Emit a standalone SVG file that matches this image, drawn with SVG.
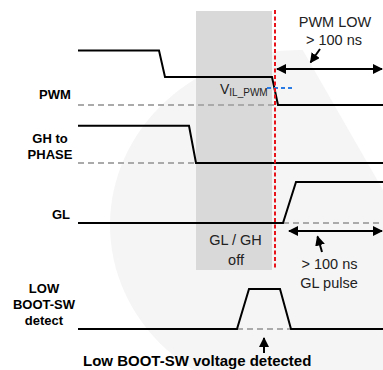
<svg xmlns="http://www.w3.org/2000/svg" width="383" height="370" viewBox="0 0 383 370">
<style>
.sig{fill:none;stroke:#000;stroke-width:2;stroke-linejoin:miter}
.ref{fill:none;stroke:#aaa;stroke-width:2;stroke-dasharray:6,4}
.arr{fill:none;stroke:#000;stroke-width:2}
.lbl{font-family:"Liberation Sans",Arial,sans-serif;font-weight:bold;font-size:13px;fill:#000;text-anchor:middle}
.note{font-family:"Liberation Sans",Arial,sans-serif;font-size:14.5px;fill:#222;text-anchor:middle}
</style>
<defs>
<marker id="ah" viewBox="0 0 10 10" refX="9" refY="5" markerWidth="5" markerHeight="5" orient="auto-start-reverse" markerUnits="strokeWidth">
<path d="M0,0 L10,5 L0,10 z" fill="#000"/>
</marker>
</defs>
<rect width="383" height="370" fill="#fff"/>
<ellipse cx="300" cy="225" rx="190" ry="175" fill="#f5f5f5"/>
<polygon points="274,0 383,0 383,190" fill="#fff"/>
<g id="window">
<rect x="196" y="11" width="76" height="259" fill="#d9d9d9"/>
<text class="note" x="235.5" y="245">GL / GH</text>
<text class="note" x="236" y="265">off</text>
</g>
<g id="pwm">
<text class="lbl" x="55" y="99">PWM</text>
<path class="ref" d="M78,105 H278"/>
<path class="sig" d="M78,50.5 H159 L165,77 H272 L278,105 H383"/>
<text font-family="Liberation Sans,Arial,sans-serif" font-size="14" fill="#222" x="220" y="94">V<tspan font-size="10" dy="2">IL_PWM</tspan></text>
<path d="M267,88 H292" stroke="#2a7be4" stroke-width="2" stroke-dasharray="4,3" fill="none"/>
</g>
<g id="gh">
<text class="lbl" x="50" y="143">GH to</text>
<text class="lbl" x="50" y="159">PHASE</text>
<path class="ref" d="M78,163 H196"/>
<path class="sig" d="M78,125.7 H189 L196,163 H383"/>
</g>
<g id="gl">
<text class="lbl" x="61" y="219">GL</text>
<path class="ref" d="M283,223 H383"/>
<path class="sig" d="M78,223 H283 L296,182 H383"/>
</g>
<g id="boot">
<text class="lbl" x="44" y="293">LOW</text>
<text class="lbl" x="44" y="309">BOOT-SW</text>
<text class="lbl" x="44" y="325">detect</text>
<path class="ref" d="M237,329 H291"/>
<path class="sig" d="M78,329 H237 L249,289 H280 L291,329 H383"/>
<text class="lbl" x="83" y="366" style="text-anchor:start;font-size:15px">Low BOOT-SW voltage detected</text>
</g>
<line id="edge" x1="275" y1="10" x2="275" y2="270" stroke="#e8141c" stroke-width="2" stroke-dasharray="4,2.5"/>
<g id="pwmlow">
<text class="note" x="335" y="26.5">PWM LOW</text>
<text class="note" x="334" y="45">&gt; 100 ns</text>
</g>
<g id="glpulse">
<text class="note" x="329.5" y="269">&gt; 100 ns</text>
<text class="note" x="329" y="288">GL pulse</text>
</g>
<g id="connectors">
<line class="arr" x1="277" y1="69" x2="382" y2="69" marker-start="url(#ah)" marker-end="url(#ah)"/>
<line class="arr" x1="320" y1="49" x2="310.5" y2="62.5" marker-end="url(#ah)"/>
<line class="arr" x1="289" y1="231" x2="382" y2="231" marker-start="url(#ah)" marker-end="url(#ah)"/>
<line class="arr" x1="322" y1="252" x2="317.5" y2="236.5" marker-end="url(#ah)"/>
<line class="arr" x1="264" y1="353" x2="264" y2="338" marker-end="url(#ah)"/>
</g>
</svg>
